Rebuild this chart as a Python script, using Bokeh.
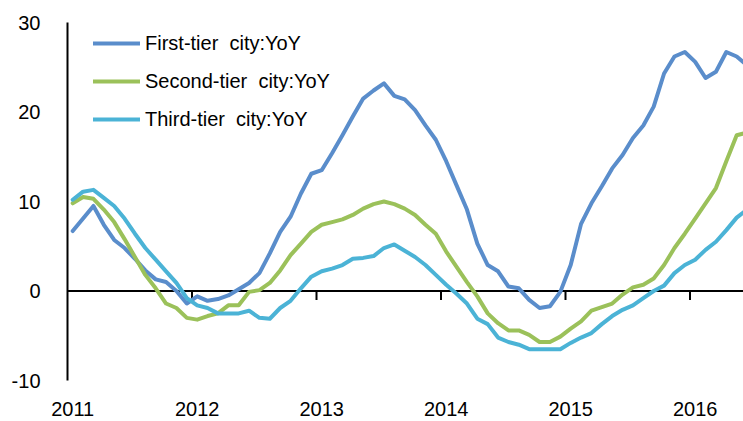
from bokeh.plotting import figure
from bokeh.models import Range1d, FixedTicker, Span, Legend, LegendItem, LinearAxis
from bokeh.embed import file_html
from bokeh.resources import INLINE

# Monthly data, Jan 2011 .. Jun 2016
start_year = 2011
n_months = 66
first_tier = [6.7, 8.1, 9.5, 7.4, 5.7, 4.8, 3.6, 2.3, 1.3, 1.0, 0.0, -1.4,
              -0.6, -1.1, -0.9, -0.5, 0.2, 0.9, 2.0, 4.2, 6.6, 8.3, 10.9, 13.1,
              13.5, 15.4, 17.4, 19.5, 21.5, 22.4, 23.2, 21.8, 21.4, 20.2, 18.5, 16.9,
              14.5, 11.8, 9.1, 5.3, 2.9, 2.2, 0.5, 0.3, -1.0, -1.9, -1.7, -0.1,
              2.9, 7.5, 9.8, 11.7, 13.7, 15.2, 17.1, 18.5, 20.6, 24.3, 26.2, 26.7,
              25.6, 23.8, 24.5, 26.7, 26.2, 25.2]
second_tier = [9.8, 10.5, 10.3, 9.1, 7.7, 5.8, 3.8, 1.8, 0.3, -1.4, -1.9, -3.0,
               -3.2, -2.8, -2.5, -1.6, -1.6, -0.1, 0.1, 0.9, 2.3, 4.0, 5.3, 6.6,
               7.4, 7.7, 8.0, 8.5, 9.2, 9.7, 10.0, 9.7, 9.2, 8.5, 7.4, 6.4,
               4.4, 2.7, 1.0, -0.6, -2.5, -3.6, -4.4, -4.4, -4.9, -5.7, -5.7, -5.1,
               -4.2, -3.4, -2.2, -1.8, -1.4, -0.4, 0.4, 0.7, 1.4, 2.9, 4.8, 6.4,
               8.1, 9.8, 11.5, 14.5, 17.4, 17.7]
third_tier = [10.2, 11.1, 11.3, 10.4, 9.5, 8.1, 6.4, 4.8, 3.5, 2.2, 0.9, -0.8,
              -1.6, -1.9, -2.5, -2.5, -2.5, -2.2, -3.0, -3.1, -1.9, -1.1, 0.3, 1.6,
              2.2, 2.5, 2.9, 3.6, 3.7, 3.9, 4.8, 5.2, 4.5, 3.8, 2.9, 1.8,
              0.7, -0.3, -1.4, -3.1, -3.7, -5.2, -5.7, -6.0, -6.5, -6.5, -6.5, -6.5,
              -5.8, -5.2, -4.7, -3.7, -2.8, -2.1, -1.6, -0.8, 0.0, 0.6, 2.0, 2.9,
              3.5, 4.6, 5.5, 6.8, 8.2, 9.1]
series_names = ["First-tier  city:YoY", "Second-tier  city:YoY", "Third-tier  city:YoY"]
series_colors = ["#5A8DCB", "#9BC15A", "#4BB3D6"]
years = [2011, 2012, 2013, 2014, 2015, 2016]
year_labels = ["2011", "2012", "2013", "2014", "2015", "2016"]
y_ticks = [-10, 0, 10, 20, 30]
y_labels = ["-10", "0", "10", "20", "30"]

months_x = [start_year + (i + 0.5) / 12 for i in range(n_months)]

FONT = "Liberation Sans"
x_end = 2011 + 676 / 124.5

p = figure(width=743, height=421, output_backend="svg", toolbar_location=None,
           x_range=Range1d(2011, x_end), y_range=Range1d(-10, 30),
           x_axis_location=None, y_axis_location="left",
           min_border_left=67, min_border_right=0, min_border_top=22, min_border_bottom=41)
p.outline_line_color = None
p.xgrid.visible = False
p.ygrid.visible = False
p.background_fill_color = "white"
p.border_fill_color = "white"

# y axis
ya = p.yaxis[0]
ya.ticker = FixedTicker(ticks=y_ticks)
ya.major_label_overrides = {t: l for t, l in zip(y_ticks, y_labels)}
ya.major_tick_out = 0
ya.major_tick_in = 0
ya.minor_tick_out = 0
ya.minor_tick_in = 0
ya.axis_line_width = 2
ya.axis_line_color = "black"
ya.major_label_text_font = FONT
ya.major_label_text_font_size = "20px"
ya.major_label_text_color = "black"
ya.major_label_standoff = 27

# x labels axis (labels sit half a month right of the tick marks)
p.extra_x_ranges = {"lab": Range1d(2011 - 1 / 24, x_end - 1 / 24)}
xa = LinearAxis(x_range_name="lab", ticker=FixedTicker(ticks=years))
xa.major_label_overrides = {y: l for y, l in zip(years, year_labels)}
xa.axis_line_color = None
xa.major_tick_out = 0
xa.major_tick_in = 0
xa.minor_tick_out = 0
xa.minor_tick_in = 0
xa.major_label_text_font = FONT
xa.major_label_text_font_size = "20px"
xa.major_label_text_color = "black"
xa.major_label_standoff = 21
p.add_layout(xa, "below")

# zero line and year tick marks
zero = Span(location=0, dimension="width", line_color="black", line_width=2, level="underlay")
p.add_layout(zero)
p.segment(x0=years[1:], y0=[0] * (len(years) - 1), x1=years[1:], y1=[-1.0] * (len(years) - 1),
          line_color="black", line_width=2)

renderers = []
for vals, col in zip([first_tier, second_tier, third_tier], series_colors):
    r = p.line(months_x, vals, line_color=col, line_width=4, line_join="round", line_cap="round")
    renderers.append(r)

legend = Legend(items=[LegendItem(label=n, renderers=[r]) for n, r in zip(series_names, renderers)],
                location=(26, 242), orientation="vertical")
legend.glyph_width = 47
legend.glyph_height = 38
legend.label_height = 38
legend.spacing = 0
legend.padding = 0
legend.margin = 0
legend.label_standoff = 5
legend.border_line_color = None
legend.background_fill_alpha = 0
legend.label_text_font = FONT
legend.label_text_font_size = "20px"
legend.label_text_color = "black"
p.add_layout(legend, "center")

open("out.html", "w").write(file_html(p, INLINE))
